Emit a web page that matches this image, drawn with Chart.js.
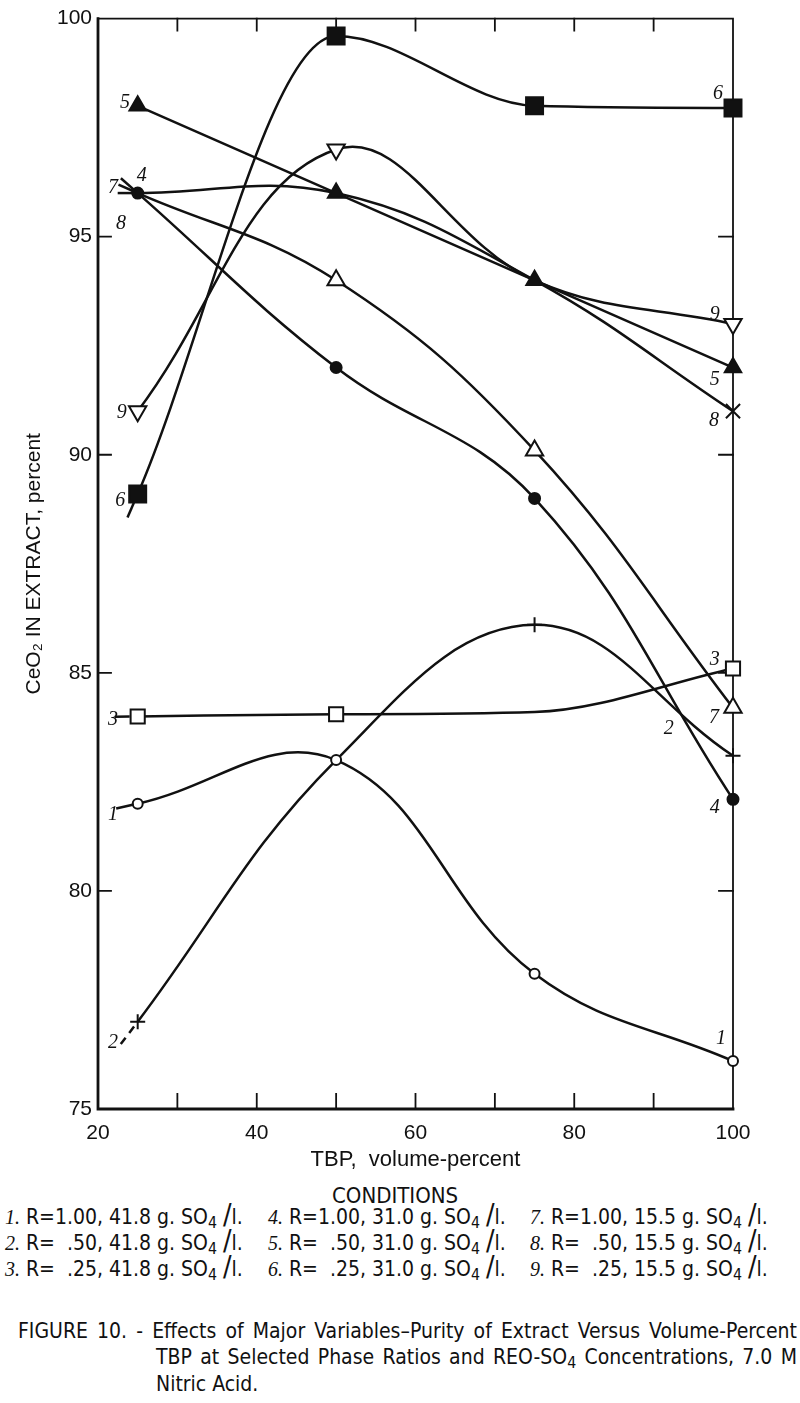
<!DOCTYPE html>
<html>
<head>
<meta charset="utf-8">
<script src="https://cdn.jsdelivr.net/npm/chart.js@4.4.0/dist/chart.umd.min.js"></script>
<style>
  body { margin: 0; background: #fff; width: 800px; height: 1403px; overflow: hidden; }
  #wrap { position: relative; width: 800px; height: 1403px; color: #111; }
  canvas { position: absolute; left: 0; top: 0; }
  .t { position: absolute; white-space: pre; line-height: 26px; height: 26px;
       font-family: "Liberation Sans Narrow", "DejaVu Sans Condensed", "Liberation Sans", sans-serif; }
  .cond { font-size: 21px; }
  .cond i { font-family: "Liberation Serif", "DejaVu Serif", serif; font-size: 20px; }
  .cond sub, .cap sub { font-size: 0.75em; vertical-align: -0.25em; }
  .sl { font-size: 1.35em; line-height: 0; }
  .cap { font-size: 21px; text-align: justify; text-align-last: justify; }
</style>
</head>
<body>
<div id="wrap">
  <canvas id="chart" width="800" height="1180"></canvas>
  <div class="t cond" style="left:332px; top:1183px; font-size:22px;">CONDITIONS</div>

  <div class="t cond" style="left:5px; top:1204px;"><i>1.</i> R=1.00, 41.8 g. SO<sub>4</sub> <span class="sl">/</span>l.</div>
  <div class="t cond" style="left:5px; top:1230px;"><i>2.</i> R=  .50, 41.8 g. SO<sub>4</sub> <span class="sl">/</span>l.</div>
  <div class="t cond" style="left:5px; top:1256px;"><i>3.</i> R=  .25, 41.8 g. SO<sub>4</sub> <span class="sl">/</span>l.</div>

  <div class="t cond" style="left:268px; top:1204px;"><i>4.</i> R=1.00, 31.0 g. SO<sub>4</sub> <span class="sl">/</span>l.</div>
  <div class="t cond" style="left:268px; top:1230px;"><i>5.</i> R=  .50, 31.0 g. SO<sub>4</sub> <span class="sl">/</span>l.</div>
  <div class="t cond" style="left:268px; top:1256px;"><i>6.</i> R=  .25, 31.0 g. SO<sub>4</sub> <span class="sl">/</span>l.</div>

  <div class="t cond" style="left:530px; top:1204px;"><i>7.</i> R=1.00, 15.5 g. SO<sub>4</sub> <span class="sl">/</span>l.</div>
  <div class="t cond" style="left:530px; top:1230px;"><i>8.</i> R=  .50, 15.5 g. SO<sub>4</sub> <span class="sl">/</span>l.</div>
  <div class="t cond" style="left:530px; top:1256px;"><i>9.</i> R=  .25, 15.5 g. SO<sub>4</sub> <span class="sl">/</span>l.</div>

  <div class="t cap" style="left:18px; width:779px; top:1318px;">FIGURE 10. - Effects of Major Variables–Purity of Extract Versus Volume-Percent</div>
  <div class="t cap" style="left:156px; width:641px; top:1344px;">TBP at Selected Phase Ratios and REO-SO<sub>4</sub> Concentrations, 7.0 M</div>
  <div class="t cap" style="left:156px; top:1371px; text-align:left; text-align-last:left;">Nitric Acid.</div>
</div>

<script>
// TBP volume-percent where samples were taken
const tbp = [25, 50, 75, 100];

// CeO2 in extract, percent (curves 1-9)
const curve1 = [82.0, 83.0, 78.1, 76.1];
const curve2 = [77.0, 83.0, 86.1, 83.1];
const curve3 = [84.0, 84.05, 84.1, 85.1];
const curve4 = [96.0, 92.0, 89.0, 82.1];
const curve5 = [98.0, 96.0, 94.0, 92.0];
const curve6 = [89.1, 99.6, 98.0, 97.95];
const curve7 = [96.0, 94.0, 90.1, 84.2];
const curve8 = [96.0, 96.0, 94.0, 91.0];
const curve9 = [91.0, 97.0, 94.0, 93.0];

// which points carry their own marker (others sit on another curve's marker)
const markerShown = [
  [1, 1, 1, 1],
  [1, 0, 1, 1],
  [1, 1, 0, 1],
  [1, 1, 1, 1],
  [1, 1, 1, 1],
  [1, 1, 1, 1],
  [0, 1, 1, 1],
  [0, 0, 0, 1],
  [1, 1, 0, 1]
];

// axis ticks
const xLabelTicks = [20, 40, 60, 80, 100];
const xMinorTicks = [30, 40, 50, 60, 70, 80, 90];
const yMinorTicks = [80, 85, 90, 95];

// curve number labels: [text, TBP, percent]
const curveLabels = [
  ['5', 23.4, 98.06], ['4', 25.5, 96.4], ['7', 21.9, 96.12], ['8', 22.9, 95.3],
  ['9', 23.0, 90.96], ['6', 22.8, 88.95], ['3', 21.9, 83.93], ['1', 21.9, 81.75],
  ['2', 21.9, 76.51],
  ['6', 98.1, 98.27], ['9', 97.7, 93.21], ['5', 97.7, 91.73], ['8', 97.6, 90.77],
  ['3', 97.7, 85.3], ['7', 97.6, 83.98], ['2', 91.9, 83.71], ['4', 97.7, 81.91],
  ['1', 98.5, 76.62]
];

const ink = '#111';
const curves = [curve1, curve2, curve3, curve4, curve5, curve6, curve7, curve8, curve9];

const markers = [
  { style: 'circle', r: 5, fill: '#fff' },
  { style: 'cross', r: 7.5, fill: ink },
  { style: 'rect', r: 10, fill: '#fff' },
  { style: 'circle', r: 5.5, fill: ink },
  { style: 'triangle', r: 9.5, fill: ink },
  { style: 'rect', r: 12, fill: ink },
  { style: 'triangle', r: 10, fill: '#fff' },
  { style: 'crossRot', r: 10, fill: ink },
  { style: 'triangle', r: 10, fill: '#fff', rot: 180 }
];

// curve smoothing per curve: 'monotone' or a spline tension
const smoothing = [0.4, 0.4, 'monotone', 0.4, 0, 'monotone', 0.4, 0.4, 0.4];

// short stubs drawn past the first point (px), as on the original drawing
const tailLen = [18, 26, 15, 18, 0, 16, 19, 18, 0];

const datasets = curves.map((vals, i) => ({
  label: String(i + 1),
  data: tbp.map((x, j) => ({ x: x, y: vals[j] })),
  borderColor: ink,
  borderWidth: 2.5,
  clip: false,
  cubicInterpolationMode: smoothing[i] === 'monotone' ? 'monotone' : 'default',
  tension: smoothing[i] === 'monotone' ? 0.4 : smoothing[i],
  pointStyle: markers[i].style,
  pointRadius: markerShown[i].map(s => s ? markers[i].r : 0),
  pointBackgroundColor: markers[i].fill,
  pointBorderColor: ink,
  pointBorderWidth: 2,
  pointRotation: markers[i].rot || 0,
  fill: false
}));

// frame with inward tick marks, curve stubs and number labels
const framePlugin = {
  id: 'frame',
  beforeDatasetsDraw(chart) {
    const { ctx, chartArea: a, scales: { x, y } } = chart;
    ctx.save();
    ctx.strokeStyle = ink;
    ctx.lineCap = 'square';
    ctx.lineWidth = 2.8;
    ctx.beginPath();
    ctx.moveTo(a.left, a.top);
    ctx.lineTo(a.left, a.bottom);
    ctx.lineTo(a.right, a.bottom);
    ctx.stroke();
    ctx.lineWidth = 1.8;
    ctx.beginPath();
    ctx.moveTo(a.left, a.top);
    ctx.lineTo(a.right, a.top);
    ctx.lineTo(a.right, a.bottom);
    ctx.stroke();
    ctx.beginPath();
    xMinorTicks.forEach(v => {
      const px = x.getPixelForValue(v);
      ctx.moveTo(px, a.bottom);
      ctx.lineTo(px, a.bottom - 15);
      ctx.moveTo(px, a.top);
      ctx.lineTo(px, a.top + 12);
    });
    yMinorTicks.forEach(v => {
      const py = y.getPixelForValue(v);
      ctx.moveTo(a.left, py);
      ctx.lineTo(a.left + 13, py);
      ctx.moveTo(a.right, py);
      ctx.lineTo(a.right - 14, py);
    });
    ctx.stroke();
    ctx.restore();
  },
  afterDatasetsDraw(chart) {
    const { ctx, scales: { x, y } } = chart;
    ctx.save();
    ctx.strokeStyle = ink;
    ctx.lineWidth = 2.5;
    chart.data.datasets.forEach((ds, i) => {
      const len = tailLen[i];
      if (!len) return;
      const p = chart.getDatasetMeta(i).data[0];
      let dx = p.x - p.cp2x, dy = p.y - p.cp2y;
      const n = Math.hypot(dx, dy) || 1;
      dx /= n; dy /= n;
      const gap = markerShown[i][0] ? markers[i].r * 0.8 : 2;
      ctx.setLineDash(i === 1 ? [8, 6] : []);
      ctx.beginPath();
      ctx.moveTo(p.x + dx * gap, p.y + dy * gap);
      ctx.lineTo(p.x + dx * (gap + len), p.y + dy * (gap + len));
      ctx.stroke();
    });
    ctx.setLineDash([]);
    ctx.fillStyle = ink;
    ctx.font = 'italic 20px "Liberation Serif", "DejaVu Serif", serif';
    ctx.textAlign = 'center';
    ctx.textBaseline = 'middle';
    curveLabels.forEach(([t, vx, vy]) => {
      ctx.fillText(t, x.getPixelForValue(vx), y.getPixelForValue(vy));
    });
    ctx.restore();
  }
};

new Chart(document.getElementById('chart'), {
  type: 'line',
  data: { datasets: datasets },
  options: {
    responsive: false,
    animation: false,
    devicePixelRatio: 1,
    layout: { padding: { top: 12, right: 67, left: 0, bottom: 0 } },
    plugins: { legend: { display: false }, tooltip: { enabled: false } },
    scales: {
      x: {
        type: 'linear',
        min: 20,
        max: 100,
        afterFit: s => { s.height = 71; },
        afterBuildTicks: s => { s.ticks = xLabelTicks.map(v => ({ value: v })); },
        grid: { display: false, drawTicks: false },
        border: { display: false },
        ticks: { color: ink, padding: 12, maxRotation: 0, font: { family: '"Liberation Sans", Arial, sans-serif', size: 21 } },
        title: {
          display: true,
          text: 'TBP,  volume-percent',
          color: ink,
          padding: { top: 0, bottom: 7 },
          font: { family: '"Liberation Sans", Arial, sans-serif', size: 22 }
        }
      },
      y: {
        min: 75,
        max: 100,
        afterFit: s => { s.width = 98; },
        ticks: { stepSize: 5, color: ink, padding: 6, font: { family: '"Liberation Sans", Arial, sans-serif', size: 21 } },
        grid: { display: false, drawTicks: false },
        border: { display: false },
        title: {
          display: true,
          text: 'CeO₂ IN EXTRACT, percent',
          color: ink,
          padding: { top: 22, bottom: 0 },
          font: { family: '"Liberation Sans", Arial, sans-serif', size: 21 }
        }
      }
    }
  },
  plugins: [framePlugin]
});
</script>
</body>
</html>
